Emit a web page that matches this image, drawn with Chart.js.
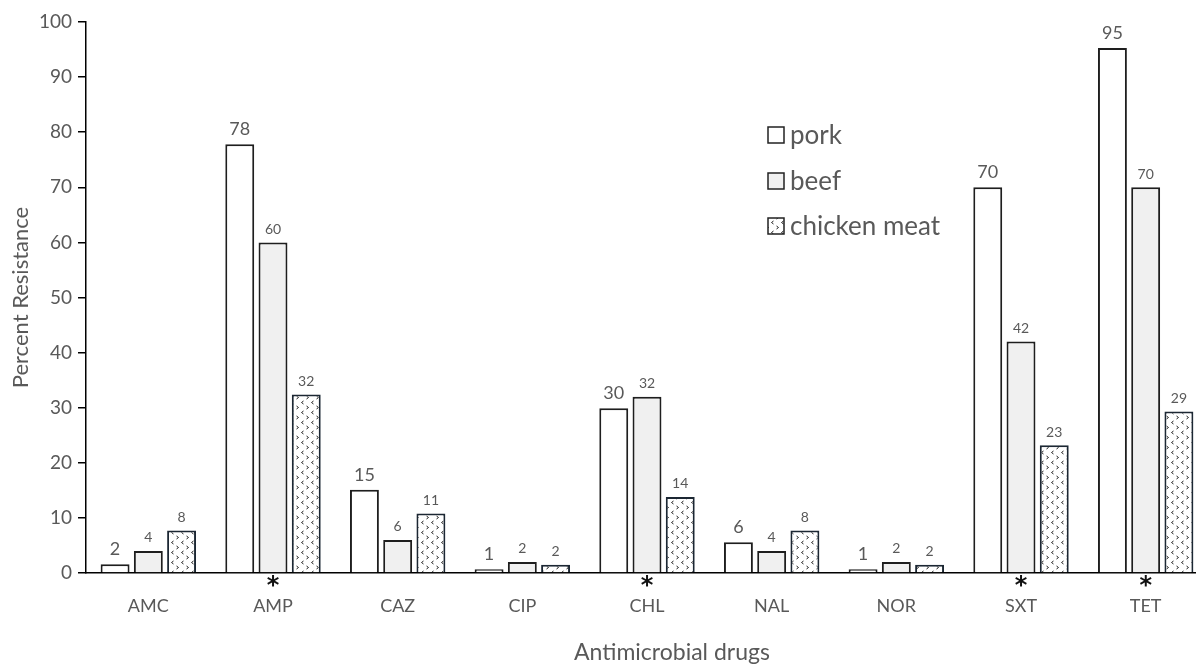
<!DOCTYPE html>
<html>
<head>
<meta charset="utf-8">
<script src="https://cdn.jsdelivr.net/npm/chart.js@4"></script>
<style>
    html, body { margin: 0; padding: 0; background: #fff; overflow: hidden; }
    #wrap { width: 1215px; height: 669px; }
</style>
</head>
<body>
<div id="wrap"><canvas id="chart" width="1215" height="669"></canvas></div>
<script>
const categories = ['AMC', 'AMP', 'CAZ', 'CIP', 'CHL', 'NAL', 'NOR', 'SXT', 'TET'];
const significant = ['AMP', 'CHL', 'SXT', 'TET'];

// bar heights, labels as printed above the bars
const porkValues = [1.6, 77.8, 15.1, 0.7, 29.9, 5.6, 0.7, 70.0, 95.3];
const porkLabels = [2, 78, 15, 1, 30, 6, 1, 70, 95];
const beefValues = [4.0, 60.0, 6.0, 2.0, 32.0, 4.0, 2.0, 42.0, 70.0];
const beefLabels = [4, 60, 6, 2, 32, 4, 2, 42, 70];
const chickenValues = [7.7, 32.4, 10.8, 1.5, 13.8, 7.7, 1.5, 23.2, 29.3];
const chickenLabels = [8, 32, 11, 2, 14, 8, 2, 23, 29];

const FONT = 'Lato, "Open Sans", sans-serif';
const GREY = '#595959';

function makeDotPattern() {
    const tile = document.createElement('canvas');
    tile.width = 10;
    tile.height = 10;
    const c = tile.getContext('2d');
    c.fillStyle = '#ffffff';
    c.fillRect(0, 0, 10, 10);
    c.strokeStyle = '#262626';
    c.lineWidth = 1;
    // small '<' mark
    c.beginPath();
    c.moveTo(3.5, 1);
    c.lineTo(1.5, 2.5);
    c.lineTo(3.5, 4);
    c.stroke();
    // small '>' mark
    c.beginPath();
    c.moveTo(6.5, 6);
    c.lineTo(8.5, 7.5);
    c.lineTo(6.5, 9);
    c.stroke();
    return c.createPattern(tile, 'repeat');
}

const ctx = document.getElementById('chart').getContext('2d');
const chickenFill = makeDotPattern();

const valueLabels = {
    id: 'valueLabels',
    afterDatasetsDraw(chart) {
        const c = chart.ctx;
        c.save();
        c.textAlign = 'center';
        c.textBaseline = 'bottom';
        c.fillStyle = GREY;
        chart.data.datasets.forEach((ds, i) => {
            const meta = chart.getDatasetMeta(i);
            c.font = `${ds.labelSize}px ${FONT}`;
            meta.data.forEach((bar, j) => {
                c.fillText(String(ds.shownLabels[j]), bar.x, bar.y - 6);
            });
        });
        c.restore();
    }
};

const extras = {
    id: 'extras',
    afterDraw(chart) {
        const c = chart.ctx;
        const area = chart.chartArea;
        const xScale = chart.scales.x;
        c.save();
        // significance marks
        c.fillStyle = '#111';
        c.font = 'bold 24px "DejaVu Sans", sans-serif';
        c.textAlign = 'center';
        c.textBaseline = 'middle';
        categories.forEach((cat, i) => {
            if (significant.includes(cat)) {
                c.fillText('*', xScale.getPixelForValue(i), area.bottom + 14);
            }
        });
        // x axis title
        c.fillStyle = GREY;
        c.font = `23px ${FONT}`;
        c.fillText('Antimicrobial drugs', (area.left + area.right) / 2 + 25, area.bottom + 80);

        // legend
        const lx = 768, ly = [135, 181, 226], box = 16;
        c.font = `26px ${FONT}`;
        c.textAlign = 'left';
        chart.data.datasets.forEach((ds, i) => {
            const y = ly[i];
            c.fillStyle = ds.backgroundColor;
            c.fillRect(lx, y - box / 2, box, box);
            c.strokeStyle = '#222';
            c.lineWidth = 1.5;
            c.strokeRect(lx, y - box / 2, box, box);
            c.fillStyle = GREY;
            c.fillText(ds.label, lx + box + 6, y + 1);
        });
        c.restore();
    }
};

new Chart(ctx, {
    type: 'bar',
    data: {
        labels: categories,
        datasets: [
            {
                label: 'pork',
                data: porkValues,
                shownLabels: porkLabels,
                labelSize: 18,
                backgroundColor: '#ffffff',
                borderColor: '#1e1e1e',
                borderWidth: 2
            },
            {
                label: 'beef',
                data: beefValues,
                shownLabels: beefLabels,
                labelSize: 14,
                backgroundColor: '#f0f0f0',
                borderColor: '#1e1e1e',
                borderWidth: 2
            },
            {
                label: 'chicken meat',
                data: chickenValues,
                shownLabels: chickenLabels,
                labelSize: 14,
                backgroundColor: chickenFill,
                borderColor: '#1c2733',
                borderWidth: 2
            }
        ]
    },
    options: {
        responsive: false,
        devicePixelRatio: 1,
        animation: false,
        categoryPercentage: 0.8,
        barPercentage: 0.87,
        layout: {
            padding: {top: 22, right: 7, bottom: 0, left: 0}
        },
        plugins: {
            legend: {display: false},
            tooltip: {enabled: false}
        },
        scales: {
            x: {
                grid: {display: false, drawTicks: false},
                border: {display: true, color: '#000', width: 1.5},
                ticks: {
                    color: GREY,
                    font: {family: FONT, size: 18},
                    padding: 22
                },
                afterFit(scale) {
                    scale.height = 96;
                }
            },
            y: {
                min: 0,
                max: 100,
                grid: {drawOnChartArea: false, drawTicks: true, tickLength: 8, color: '#000', lineWidth: 1.5},
                border: {display: true, color: '#000', width: 1.5},
                ticks: {
                    stepSize: 10,
                    color: GREY,
                    font: {family: FONT, size: 19},
                    padding: 6
                },
                title: {
                    display: true,
                    text: 'Percent Resistance',
                    color: GREY,
                    font: {family: FONT, size: 22},
                    padding: {top: 8, bottom: 4}
                },
                afterFit(scale) {
                    scale.width = 86;
                }
            }
        }
    },
    plugins: [valueLabels, extras]
});
</script>
</body>
</html>
